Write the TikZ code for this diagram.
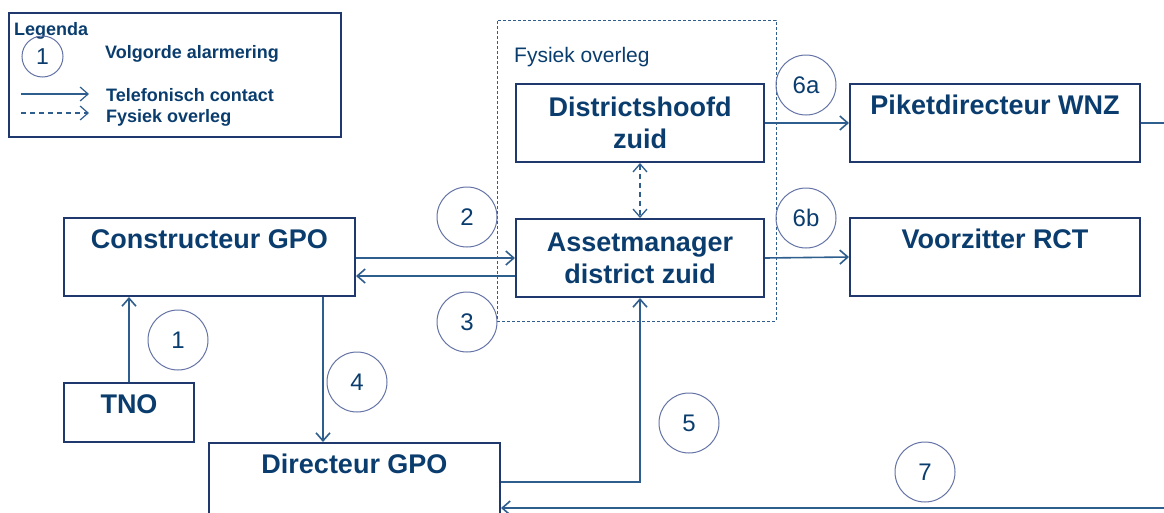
\documentclass[tikz,border=0pt]{standalone}
\usepackage{fontspec}
\setmainfont{Liberation Sans}
\usetikzlibrary{positioning}
\usetikzlibrary{arrows.meta}
\definecolor{tekst}{RGB}{10,61,110}
\definecolor{rand}{RGB}{31,56,110}
\definecolor{lijn}{RGB}{46,94,142}
\definecolor{cirkel}{RGB}{100,115,165}
\newcommand{\blokfont}{\fontsize{27}{32}\selectfont\bfseries}
\newcommand{\numfont}{\fontsize{24}{28}\selectfont}
\newcommand{\legfont}{\fontsize{18}{21}\selectfont\bfseries}
\newcommand{\overlegfont}{\fontsize{21}{25}\selectfont}
\tikzset{
  blok/.style={draw=rand,line width=2pt,minimum width=#1,minimum height=78pt,inner sep=0pt,text=tekst,font=\blokfont,align=center},
  kop/.style={label={[anchor=base,yshift=-31pt,text=tekst,font=\blokfont]north:#1}},
  num/.style={circle,draw=cirkel,line width=1pt,minimum size=60pt,inner sep=0pt,text=tekst,font=\numfont},
  leg/.style={text=tekst,font=\legfont,inner sep=0pt},
  pijl/.style={draw=lijn,line width=1.6pt,->},
  stippel/.style={draw=lijn,line width=1.3pt,dash pattern=on 5pt off 4pt,<->},
  overleg/.style={draw=lijn,line width=0.9pt,dash pattern=on 3pt off 2pt,minimum width=279pt,minimum height=301pt}
}
\begin{document}
\begin{tikzpicture}[x=1pt,y=-1pt,node distance=4pt,>={Straight Barb[length=8pt,width=14pt]}]
  \useasboundingbox (0,0) rectangle (1164,512);
  \clip (0,0) rectangle (1164,512);
  % legenda
  \node[draw=rand,line width=1.5pt,minimum width=332pt,minimum height=124pt](legenda) at (175,75) {};
  \node[leg,anchor=base west] (legkop) at (14,35) {Legenda};
  \node[num,minimum size=41pt,font=\fontsize{23}{27}\selectfont] (legnum) at (42.5,56.5) {1};
  \node[leg,anchor=base west] (volgorde) at (105,58) {Volgorde alarmering};
  \node[leg,anchor=base west] (telefoon) at (106,101) {Telefonisch contact};
  \node[leg,anchor=base west] (fysiek) at (106,122) {Fysiek overleg};
  \coordinate (tela) at (21,94);
  \coordinate (telb) at (89,94);
  \coordinate (fysa) at (21,113);
  \coordinate (fysb) at (89,113);
  \draw[pijl,line width=1.2pt] (tela) -- (telb);
  \draw[pijl,line width=1.2pt,dash pattern=on 5pt off 4pt] (fysa) -- (fysb);

  % overleg
  \node[overleg] (overleg) at (636.5,170.5) {};
  \node[anchor=base west,text=tekst,font=\overlegfont,inner sep=0pt] (overlegtxt) at (514,62) {Fysiek overleg};
  \node[blok=248pt] (distr) at (640,123) {Districtshoofd\\zuid};
  \node[blok=248pt,below=55pt of distr] (asset) {Assetmanager\\district zuid};

  % overige blokken
  \node[blok=290pt,kop={Piketdirecteur WNZ}] (piket) at (995,123) {};
  \node[blok=290pt,below=54pt of piket,kop={Voorzitter RCT}] (voorz) {};
  \node[blok=291pt,kop={Constructeur GPO}] (constr) at (209.5,257) {};
  \node[blok=130pt,minimum height=59pt,kop={TNO}] (tno) at (129,412.5) {};
  \node[blok=291pt,kop={Directeur GPO}] (direc) at (354.5,482) {};

  % volgorde
  \node[num] (n1) at (178,340) {1};
  \node[num] (n2) at (467,217) {2};
  \node[num] (n3) at (467,322) {3};
  \node[num] (n4) at (357,382) {4};
  \node[num] (n5) at (689,423) {5};
  \node[num] (n6a) at (806,85) {6a};
  \node[num] (n6b) at (806,218) {6b};
  \node[num] (n7) at (925,472) {7};

  % verbindingen
  \coordinate (terug) at ([yshift=-18pt]asset.west);
  \coordinate (vier) at ([xshift=113.5pt]constr.south);
  \draw[pijl] (tno.north) -- (tno.north |- constr.south);
  \draw[pijl] (constr.east |- asset.west) -- (asset.west);
  \draw[pijl] (terug) -- (terug -| constr.east);
  \draw[pijl] (vier) -- (vier |- direc.north);
  \draw[pijl] (direc.east) -| (asset.south);
  \draw[pijl] (distr.east) -- (piket.west);
  \draw[pijl] (asset.east) -- (voorz.west);
  \draw[pijl] (piket.east) -- ++(40,0) |- ([yshift=-26pt]direc.east);
  \draw[stippel] (distr.south) -- (distr.south |- asset.north);
\end{tikzpicture}
\end{document}
